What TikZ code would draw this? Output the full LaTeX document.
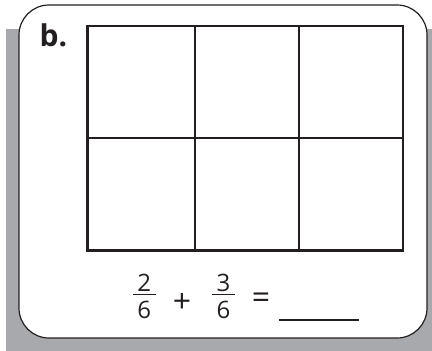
\documentclass[tikz,border=0pt]{standalone}
\usepackage{fontspec}
\setmainfont{Open Sans}
\definecolor{shadowgray}{RGB}{167,169,172}
\definecolor{inkblack}{RGB}{35,31,32}
\tikzset{
  digit/.style={font=\fontsize{24}{24}\selectfont, text=inkblack, inner sep=0pt, anchor=base},
  opsym/.style={font=\fontsize{32}{32}\selectfont, text=inkblack, inner sep=0pt},
  gridouter/.style={draw=inkblack, line width=2.5pt},
  gridinner/.style={draw=inkblack, line width=1.1pt},
  fracbar/.style={draw=inkblack, line width=1pt}
}
\begin{document}
\begin{tikzpicture}[x=1pt,y=-1pt]
\useasboundingbox (0,0) rectangle (432,351);
% shadow
\fill[shadowgray] (6,29) rectangle (432,351);
% card
\draw[fill=white, draw=inkblack, line width=1.2pt, rounded corners=30pt] (19,5) rectangle (427,338);
% label
\node[font=\fontsize{30}{30}\selectfont\bfseries, text=inkblack, inner sep=0pt, anchor=base west] (lbl) at (39.5,46) {b.};
% grid
\draw[gridinner] (195,26) -- (195,250.5);
\draw[gridinner] (299,26) -- (299,250.5);
\draw[gridinner] (87.5,138) -- (403,138);
\draw[gridouter] (87.5,26) rectangle (403,250.5);
% fraction 1
\node[digit] (n1) at (144.3,291) {2};
\node[digit] (d1) at (144.3,318) {6};
\draw[fracbar] (133,294) -- (155.5,294);
% plus
\node[opsym] (plus) at (182,303) {+};
% fraction 2
\node[digit] (n2) at (223.5,291) {3};
\node[digit] (d2) at (223.5,318) {6};
\draw[fracbar] (212,294) -- (235,294);
% equals
\node[opsym] (eq) at (261,301) {=};
% answer line
\coordinate (ansL) at (279.3,320);
\coordinate (ansR) at (359.3,320);
\draw[draw=inkblack, line width=1.2pt] (ansL) -- (ansR);
\end{tikzpicture}
\end{document}
